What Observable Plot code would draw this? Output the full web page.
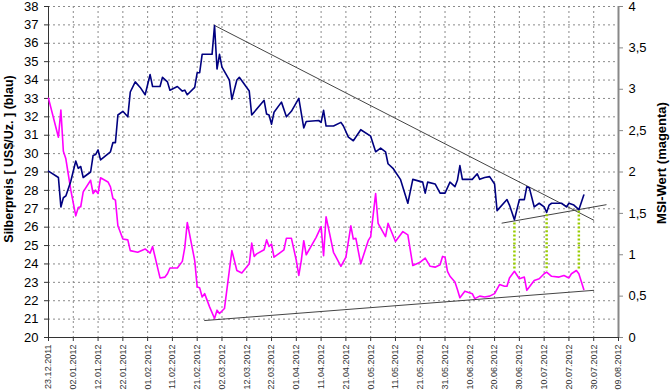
<!DOCTYPE html>
<html><head><meta charset="utf-8">
<script src="https://cdn.jsdelivr.net/npm/d3@7"></script>
<script src="https://cdn.jsdelivr.net/npm/@observablehq/plot@0.6"></script>
<style>
body{margin:0;background:#fff;}
#chart svg{font-family:"Liberation Sans",Arial,sans-serif;display:block;}
</style></head><body><div id="chart"></div>
<script>
// Silver price (left axis, US$/oz)
const silverDates = ["2011-12-23","2011-12-27","2011-12-28","2011-12-29","2011-12-30","2012-01-01","2012-01-03","2012-01-04","2012-01-05","2012-01-06","2012-01-09","2012-01-10","2012-01-11","2012-01-12","2012-01-13","2012-01-17","2012-01-18","2012-01-19","2012-01-20","2012-01-22","2012-01-24","2012-01-25","2012-01-27","2012-01-29","2012-01-31","2012-02-02","2012-02-03","2012-02-06","2012-02-07","2012-02-09","2012-02-10","2012-02-13","2012-02-15","2012-02-16","2012-02-17","2012-02-20","2012-02-21","2012-02-22","2012-02-23","2012-02-27","2012-02-28","2012-02-29","2012-03-01","2012-03-02","2012-03-05","2012-03-06","2012-03-08","2012-03-09","2012-03-13","2012-03-14","2012-03-19","2012-03-20","2012-03-21","2012-03-22","2012-03-23","2012-03-26","2012-03-28","2012-03-30","2012-04-02","2012-04-04","2012-04-05","2012-04-10","2012-04-11","2012-04-12","2012-04-13","2012-04-16","2012-04-19","2012-04-20","2012-04-22","2012-04-24","2012-04-27","2012-05-01","2012-05-03","2012-05-05","2012-05-07","2012-05-08","2012-05-10","2012-05-11","2012-05-13","2012-05-16","2012-05-18","2012-05-22","2012-05-23","2012-05-24","2012-05-27","2012-05-29","2012-05-31","2012-06-02","2012-06-04","2012-06-05","2012-06-06","2012-06-07","2012-06-11","2012-06-13","2012-06-14","2012-06-16","2012-06-18","2012-06-20","2012-06-21","2012-06-25","2012-06-26","2012-06-28","2012-06-30","2012-07-02","2012-07-03","2012-07-04","2012-07-06","2012-07-08","2012-07-10","2012-07-11","2012-07-12","2012-07-13","2012-07-17","2012-07-19","2012-07-20","2012-07-22","2012-07-24","2012-07-26"];
const silverPrices = [29.05,28.7,27.1,27.6,27.7,28.5,29.6,29.2,29.3,28.7,29.0,29.9,29.95,30.2,29.66,30.1,30.6,30.6,32.1,32.3,32.0,33.35,33.9,33.6,33.2,34.3,33.65,33.65,34.15,33.9,33.45,33.65,33.4,33.45,33.2,33.6,34.4,34.4,35.4,35.4,36.97,34.6,35.4,34.7,34.0,32.95,34.0,34.15,33.4,32.1,32.9,32.15,32.1,31.6,32.25,32.8,32.0,32.3,33.0,31.4,31.75,31.8,31.7,32.35,31.5,31.5,31.7,31.5,30.9,30.7,31.3,30.95,30.1,30.3,30.1,29.45,29.2,29.0,28.6,27.3,28.6,28.45,27.85,28.45,28.35,27.85,27.85,28.45,28.2,28.55,29.35,28.6,28.6,28.9,28.6,28.7,28.75,28.35,26.9,27.5,27.2,26.4,27.5,27.5,28.2,28.15,27.1,27.3,27.1,26.8,27.2,27.3,27.3,27.1,27.3,27.2,26.95,27.75];

// MSI value (right axis)
const msiDates = ["2011-12-23","2011-12-27","2011-12-28","2011-12-29","2011-12-30","2012-01-01","2012-01-03","2012-01-04","2012-01-05","2012-01-06","2012-01-09","2012-01-10","2012-01-11","2012-01-12","2012-01-13","2012-01-16","2012-01-17","2012-01-18","2012-01-19","2012-01-20","2012-01-22","2012-01-24","2012-01-25","2012-01-28","2012-01-31","2012-02-02","2012-02-03","2012-02-06","2012-02-08","2012-02-09","2012-02-10","2012-02-13","2012-02-15","2012-02-16","2012-02-17","2012-02-20","2012-02-21","2012-02-22","2012-02-23","2012-02-24","2012-02-26","2012-02-28","2012-02-29","2012-03-01","2012-03-03","2012-03-06","2012-03-08","2012-03-10","2012-03-13","2012-03-14","2012-03-15","2012-03-16","2012-03-19","2012-03-20","2012-03-21","2012-03-22","2012-03-23","2012-03-27","2012-03-28","2012-03-30","2012-04-01","2012-04-02","2012-04-03","2012-04-04","2012-04-05","2012-04-09","2012-04-11","2012-04-12","2012-04-13","2012-04-16","2012-04-19","2012-04-21","2012-04-23","2012-04-24","2012-04-25","2012-04-27","2012-04-30","2012-05-01","2012-05-03","2012-05-04","2012-05-07","2012-05-08","2012-05-11","2012-05-14","2012-05-16","2012-05-18","2012-05-21","2012-05-23","2012-05-25","2012-05-27","2012-05-29","2012-05-30","2012-05-31","2012-06-01","2012-06-02","2012-06-04","2012-06-05","2012-06-06","2012-06-08","2012-06-11","2012-06-12","2012-06-14","2012-06-16","2012-06-18","2012-06-20","2012-06-22","2012-06-24","2012-06-25","2012-06-26","2012-06-28","2012-06-30","2012-07-02","2012-07-03","2012-07-06","2012-07-08","2012-07-10","2012-07-11","2012-07-13","2012-07-16","2012-07-18","2012-07-20","2012-07-21","2012-07-23","2012-07-24","2012-07-26"];
const msiValues = [2.89,2.42,2.75,2.25,2.16,1.78,1.47,1.57,1.58,1.76,1.90,1.74,1.78,1.74,1.93,1.88,1.82,1.68,1.66,1.35,1.19,1.18,1.05,1.03,1.07,1.02,1.10,0.72,0.73,0.77,0.84,0.84,0.92,1.09,1.39,0.93,0.61,0.60,0.49,0.53,0.37,0.23,0.33,0.29,0.35,1.05,0.81,0.78,0.89,1.14,0.98,1.01,1.06,1.18,1.10,1.13,0.97,1.06,1.20,1.20,0.93,0.75,0.93,1.17,1.00,1.21,1.34,0.99,1.46,1.03,0.86,0.97,1.35,1.19,1.20,0.89,1.17,1.22,1.74,1.38,1.22,1.38,1.16,1.28,1.24,0.87,0.91,0.96,0.86,0.85,0.88,0.98,0.97,0.80,0.74,0.67,0.58,0.48,0.56,0.53,0.47,0.50,0.49,0.50,0.53,0.64,0.62,0.62,0.72,0.80,0.71,0.73,0.57,0.69,0.71,0.77,0.79,0.74,0.73,0.75,0.72,0.77,0.81,0.77,0.58];

// Trend lines
const resistanceDates = ["2012-02-28","2012-07-30"];
const resistancePrices = [36.97, 26.38];
const supportDates = ["2012-06-23","2012-08-04"];
const supportPrices = [26.22, 27.22];
const msiSupportDates = ["2012-02-24","2012-07-30"];
const msiSupportValues = [0.205, 0.57];

// Green divergence markers
const markerDates = ["2012-06-28","2012-07-11","2012-07-24"];
const markerTopPrices = [26.25, 26.7, 26.9];
const markerBottomMsi = [0.83, 0.81, 0.83];

// Axes
const xTickLabels = ["23.12.2011","02.01.2012","12.01.2012","22.01.2012","01.02.2012","11.02.2012","21.02.2012","02.03.2012","12.03.2012","22.03.2012","01.04.2012","11.04.2012","21.04.2012","01.05.2012","11.05.2012","21.05.2012","31.05.2012","10.06.2012","20.06.2012","30.06.2012","10.07.2012","20.07.2012","30.07.2012","09.08.2012"];
const priceTicks = [20,21,22,23,24,25,26,27,28,29,30,31,32,33,34,35,36,37,38];
const msiTicks = [0,0.5,1,1.5,2,2.5,3,3.5,4];
const msiTickLabels = ["0","0,5","1","1,5","2","2,5","3","3,5","4"];

const parseTick = d3.utcParse("%d.%m.%Y");
const xTicks = xTickLabels.map(parseTick);
const tickLabelByTime = new Map(xTicks.map((d, i) => [+d, xTickLabels[i]]));
const toPrice = v => 20 + v * 4.5; // MSI 0..4 mapped onto price 20..38
const msiLabelByPos = new Map(msiTicks.map((v, i) => [toPrice(v).toFixed(3), msiTickLabels[i]]));

const silver = silverDates.map((d, i) => ({date: new Date(d), v: silverPrices[i]}));
const msi = msiDates.map((d, i) => ({date: new Date(d), v: msiValues[i]}));
const resistance = resistanceDates.map((d, i) => ({date: new Date(d), v: resistancePrices[i]}));
const support = supportDates.map((d, i) => ({date: new Date(d), v: supportPrices[i]}));
const msiSupport = msiSupportDates.map((d, i) => ({date: new Date(d), v: msiSupportValues[i]}));
const markers = markerDates.map((d, i) => ({date: new Date(d), top: markerTopPrices[i], bottom: markerBottomMsi[i]}));

const grid = {stroke: "#8a8a8a", strokeOpacity: 1, strokeDasharray: "2,3"};

const chart = Plot.plot({
  width: 670, height: 390,
  marginLeft: 48, marginRight: 52, marginTop: 6, marginBottom: 53,
  style: {fontFamily: '"Liberation Sans", Arial, sans-serif', background: "#fff", overflow: "visible"},
  x: {type: "utc", domain: [xTicks[0], xTicks[xTicks.length - 1]]},
  y: {domain: [20, 38]},
  marks: [
    Plot.gridY(priceTicks.slice(1), grid),
    Plot.gridX(xTicks.slice(1, -1), grid),
    Plot.axisY(priceTicks, {anchor: "left", tickSize: 4, tickPadding: 6, fontSize: 13, label: null, color: "#000", stroke: "#333"}),
    Plot.axisY(msiTicks.map(toPrice), {anchor: "right", tickSize: 4, tickPadding: 6, fontSize: 13, label: null,
      tickFormat: d => msiLabelByPos.get(d.toFixed(3)), stroke: "#888"}),
    Plot.axisX(xTicks, {anchor: "bottom", tickSize: 4, tickPadding: 3, tickRotate: -90, fontSize: 9, label: null,
      tickFormat: d => tickLabelByTime.get(+d), fill: "#333", stroke: "#333"}),
    Plot.ruleX([xTicks[0]], {stroke: "#333"}),
    Plot.ruleX([xTicks[xTicks.length - 1]], {stroke: "#888", strokeWidth: 2}),
    Plot.ruleY([20], {stroke: "#333"}),
    Plot.line(resistance, {x: "date", y: "v", stroke: "#444", strokeWidth: 1}),
    Plot.line(support, {x: "date", y: "v", stroke: "#444", strokeWidth: 1}),
    Plot.line(msiSupport, {x: "date", y: d => toPrice(d.v), stroke: "#444", strokeWidth: 1}),
    Plot.link(markers, {x1: "date", x2: "date", y1: "top", y2: d => toPrice(d.bottom), stroke: "#99cc00", strokeWidth: 2.5, strokeDasharray: "2,2"}),
    Plot.line(msi, {x: "date", y: d => toPrice(d.v), stroke: "#ff00ff", strokeWidth: 1.6}),
    Plot.line(silver, {x: "date", y: "v", stroke: "#000080", strokeWidth: 1.6})
  ]
});

const svg = d3.select(chart);
svg.append("text")
  .attr("transform", "translate(12.5,159) rotate(-90)")
  .attr("text-anchor", "middle")
  .attr("font-weight", "bold").attr("font-size", 12.5).attr("fill", "#000")
  .text("Silberpreis [ US$/Uz. ] (blau)");
svg.append("text")
  .attr("transform", "translate(666,163) rotate(-90)")
  .attr("text-anchor", "middle")
  .attr("font-weight", "bold").attr("font-size", 13).attr("fill", "#000")
  .text("MSI-Wert (magenta)");

document.getElementById("chart").appendChild(chart);
</script>
</body></html>
